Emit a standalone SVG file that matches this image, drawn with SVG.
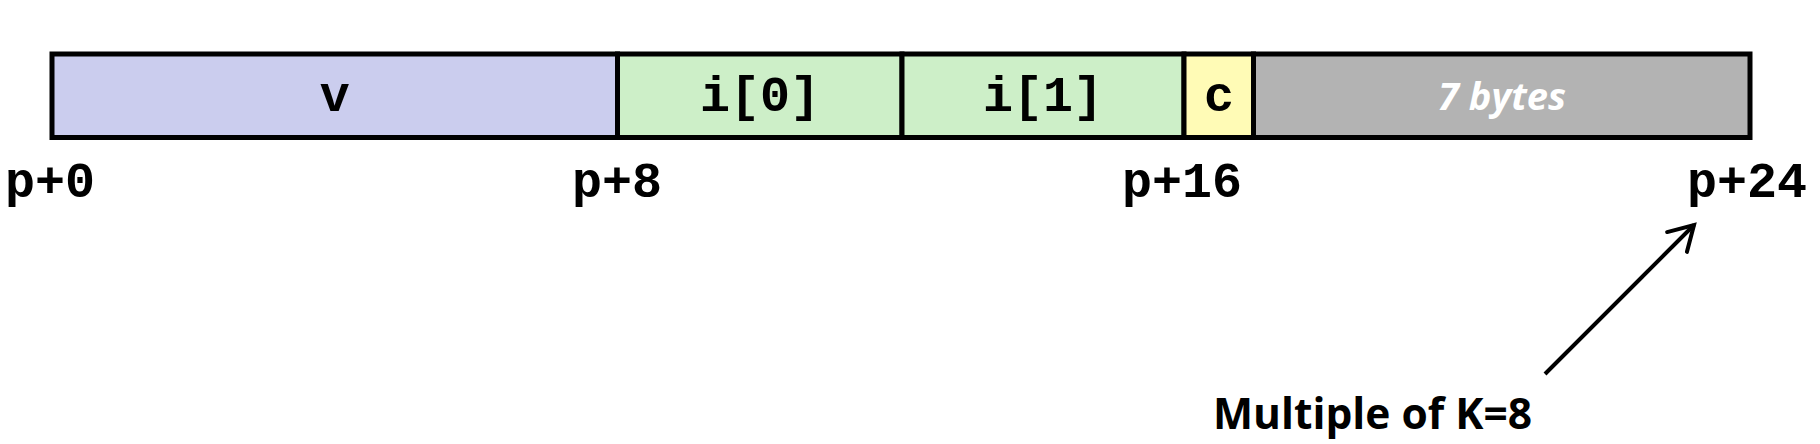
<svg xmlns="http://www.w3.org/2000/svg" width="1820" height="444" viewBox="0 0 1820 444">
<style>
.cell{stroke:#000;stroke-width:5}
.mono{font-family:"Liberation Mono","Courier New",monospace;font-weight:bold;font-size:50px;fill:#000;text-anchor:middle}
.pad{font-family:"Open Sans","Liberation Sans",sans-serif;font-style:italic;font-weight:bold;font-size:37px;fill:#fff;text-anchor:middle}
.note{font-family:"Open Sans","Liberation Sans",sans-serif;font-weight:bold;font-size:43px;fill:#000}
</style>
<defs>
<marker id="arr" markerWidth="12" markerHeight="12" refX="10" refY="6" orient="auto" markerUnits="userSpaceOnUse" viewBox="0 0 12 12" overflow="visible">
<path d="M-14,-8 L10,6 L-14,20" fill="none" stroke="#000" stroke-width="4" stroke-linecap="round" stroke-linejoin="miter"/>
</marker>
</defs>
<rect width="1820" height="444" fill="#fff"/>
<g id="v"><rect class="cell" x="52" y="54" width="565.5" height="83.5" fill="#cbcdee"/><text class="mono" x="334.7" y="111">v</text></g>
<g id="i0"><rect class="cell" x="617.5" y="54" width="284.5" height="83.5" fill="#cdefc8"/><text class="mono" x="760" y="111">i[0]</text></g>
<g id="i1"><rect class="cell" x="902" y="54" width="282" height="83.5" fill="#cdefc8"/><text class="mono" x="1043" y="111">i[1]</text></g>
<g id="c"><rect class="cell" x="1184" y="54" width="69.5" height="83.5" fill="#fffbb6"/><text class="mono" x="1219" y="111">c</text></g>
<g id="pad"><rect class="cell" x="1253.5" y="54" width="496.5" height="83.5" fill="#b3b3b3"/><text class="pad" x="1502" y="110" textLength="128" lengthAdjust="spacingAndGlyphs">7 bytes</text></g>
<g id="offsets">
<text class="mono" x="50" y="197">p+0</text>
<text class="mono" x="617" y="197">p+8</text>
<text class="mono" x="1182" y="197">p+16</text>
<text class="mono" x="1747" y="197">p+24</text>
</g>
<g id="note"><text class="note" x="1213" y="429" textLength="319" lengthAdjust="spacingAndGlyphs">Multiple of K=8</text></g>
<g id="connectors">
<line x1="1545" y1="374" x2="1694" y2="225" stroke="#000" stroke-width="4" marker-end="url(#arr)"/>
</g>
</svg>
